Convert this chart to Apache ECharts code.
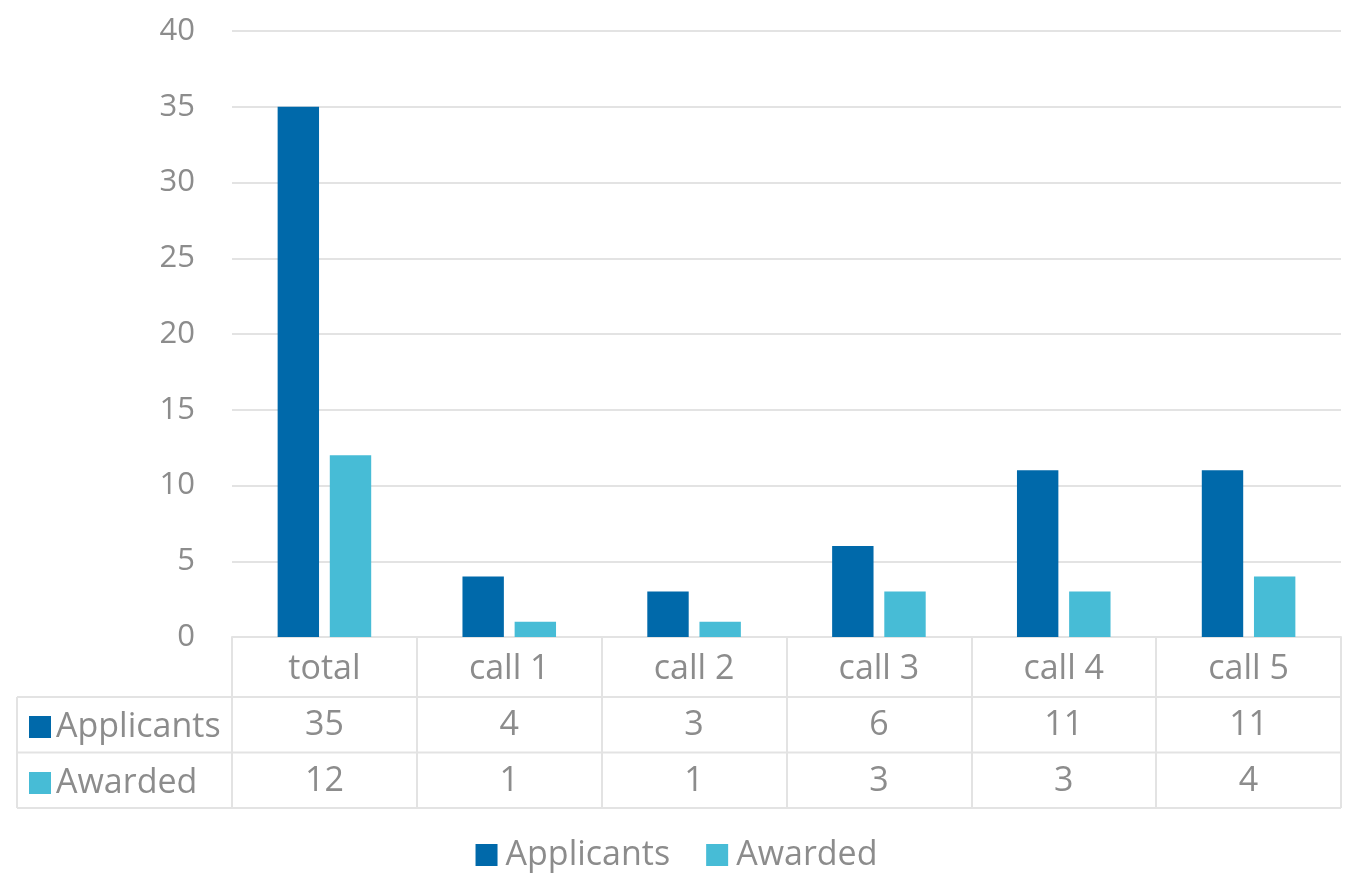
<!DOCTYPE html>
<html><head><meta charset="utf-8">
<script src="https://cdn.jsdelivr.net/npm/echarts@6/dist/echarts.min.js"></script>
<style>html,body{margin:0;padding:0;background:#fff}#c{width:1353px;height:878px}</style>
</head><body><div id="c"></div>
<script>
const categories = ['total', 'call 1', 'call 2', 'call 3', 'call 4', 'call 5'];
const applicants = [35, 4, 3, 6, 11, 11];
const awarded = [12, 1, 1, 3, 3, 4];
const seriesNames = ['Applicants', 'Awarded'];
const yTicks = { min: 0, max: 40, interval: 5 };

const FONT = 'Open Sans';
const FS = 34;
const FSY = 31;
const TXT = '#8c8c8c';
const GRID = '#e3e3e3';
const C1 = '#0069aa', C2 = '#47bcd6';

const chart = echarts.init(document.getElementById('c'));
const baseX = {
  type: 'category', data: categories, position: 'bottom', gridIndex: 0,
  axisLine: { show: false }, axisTick: { show: false }, splitLine: { show: false },
  axisLabel: { fontFamily: FONT, fontSize: FS, color: TXT, margin: 15, lineHeight: FS }
};
chart.setOption({
  animation: false,
  grid: { left: 232, right: 12, top: 31, bottom: 241 },
  textStyle: { fontFamily: FONT },
  legend: [{
    data: seriesNames, top: 833, left: 'center', icon: 'rect', itemWidth: 22, itemHeight: 22,
    itemGap: 36, selectedMode: false,
    textStyle: { fontFamily: FONT, fontSize: FS, color: TXT, lineHeight: FS, padding: [0, 0, 0, 3] }
  }, {
    data: seriesNames, orient: 'vertical', left: 24, top: 705, icon: 'rect', itemWidth: 22, itemHeight: 22,
    itemGap: 22, selectedMode: false,
    textStyle: { fontFamily: FONT, fontSize: FS, color: TXT, lineHeight: FS }
  }],
  xAxis: [
    Object.assign({}, baseX, {
      axisLine: { show: true, lineStyle: { color: GRID, width: 2 } },
      axisTick: { show: true, length: 171, lineStyle: { color: GRID, width: 2 } }
    }),
    Object.assign({}, baseX, { offset: 56, axisLabel: Object.assign({}, baseX.axisLabel, { formatter: (v, i) => String(applicants[i]) }) }),
    Object.assign({}, baseX, { offset: 112, axisLabel: Object.assign({}, baseX.axisLabel, { formatter: (v, i) => String(awarded[i]) }) })
  ],
  yAxis: {
    type: 'value', min: yTicks.min, max: yTicks.max, interval: yTicks.interval,
    axisLine: { show: false }, axisTick: { show: false },
    axisLabel: { fontFamily: FONT, fontSize: FSY, color: TXT, margin: 37 },
    splitLine: { lineStyle: { color: GRID, width: 2 } }
  },
  series: [
    { name: seriesNames[0], type: 'bar', data: applicants, xAxisIndex: 0, barWidth: '22.4%', barGap: '26%', itemStyle: { color: C1 } },
    { name: seriesNames[1], type: 'bar', data: awarded, xAxisIndex: 0, barWidth: '22.4%', barGap: '26%', itemStyle: { color: C2 } }
  ],
  graphic: [
    { type: 'line', shape: { x1: 17, y1: 697, x2: 1341, y2: 697 }, style: { stroke: GRID, lineWidth: 2 } },
    { type: 'line', shape: { x1: 17, y1: 752.5, x2: 1341, y2: 752.5 }, style: { stroke: GRID, lineWidth: 2 } },
    { type: 'line', shape: { x1: 17, y1: 808, x2: 1341, y2: 808 }, style: { stroke: GRID, lineWidth: 2 } },
    { type: 'line', shape: { x1: 17, y1: 697, x2: 17, y2: 808 }, style: { stroke: GRID, lineWidth: 2 } }
  ]
});
</script></body></html>
